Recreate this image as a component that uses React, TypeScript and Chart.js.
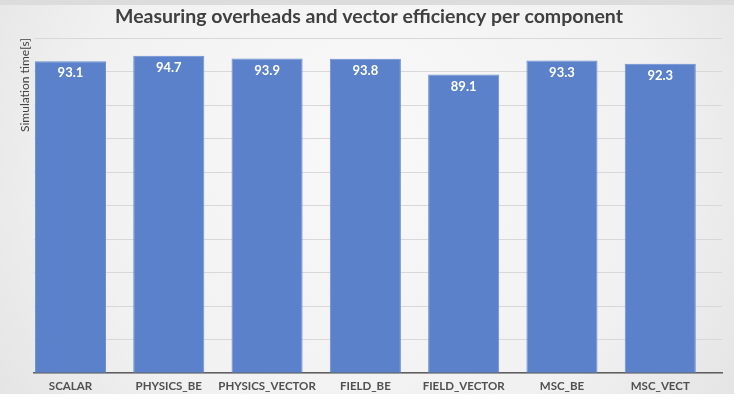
import React, { useEffect, useRef } from "react";
import { Chart, registerables } from "chart.js";

Chart.register(...registerables);

const chartTitle = "Measuring overheads and vector efficiency per component";
const yAxisTitle = "Simulation time[s]";
const categories = ["SCALAR", "PHYSICS_BE", "PHYSICS_VECTOR", "FIELD_BE", "FIELD_VECTOR", "MSC_BE", "MSC_VECT"];
const simulationTimes = [93.1, 94.7, 93.9, 93.8, 89.1, 93.3, 92.3];
const yMin = 0;
const yMax = 100;
const yStep = 10;

const FONT = "Lato, 'Open Sans', 'DejaVu Sans', sans-serif";

const backgroundPlugin = {
  id: "slideBackground",
  beforeDraw(chart: any) {
    const { ctx, width, height } = chart;
    ctx.save();
    const g = ctx.createRadialGradient(width * 0.5, height * 0.35, 40, width * 0.5, height * 0.4, width * 0.62);
    g.addColorStop(0, "#f8f8f8");
    g.addColorStop(0.6, "#f1f1f1");
    g.addColorStop(1, "#e3e3e3");
    ctx.fillStyle = g;
    ctx.fillRect(0, 0, width, height);
    ctx.fillStyle = "#dcdcdc";
    ctx.fillRect(0, 0, width, 5);
    ctx.fillStyle = "#ffffff";
    ctx.fillRect(0, 394, width, height - 394);
    ctx.restore();
  },
};

const valueLabelPlugin = {
  id: "valueLabels",
  afterDatasetsDraw(chart: any) {
    const { ctx } = chart;
    const meta = chart.getDatasetMeta(0);
    ctx.save();
    ctx.fillStyle = "#ffffff";
    ctx.font = `bold 13px ${FONT}`;
    ctx.textAlign = "center";
    ctx.textBaseline = "middle";
    meta.data.forEach((bar: any, i: number) => {
      ctx.fillText(simulationTimes[i].toFixed(1), bar.x, bar.y + 12);
    });
    ctx.restore();
  },
};

export default function App() {
  const canvasRef = useRef<HTMLCanvasElement | null>(null);

  useEffect(() => {
    document.body.style.margin = "0";
    const canvas = canvasRef.current;
    if (!canvas) return;
    const chart = new Chart(canvas, {
      type: "bar",
      data: {
        datasets: [
          {
            label: yAxisTitle,
            data: simulationTimes.map((v, i) => ({ x: i, y: v })),
            backgroundColor: "#5a81c9",
            borderColor: "#6a8fd4",
            borderWidth: 1,
            barPercentage: 0.723,
            categoryPercentage: 1,
          },
        ],
      },
      options: {
        responsive: false,
        animation: false,
        devicePixelRatio: 1,
        layout: { padding: { left: 16, right: 12, top: 0, bottom: 0 } },
        plugins: {
          legend: { display: false },
          tooltip: { enabled: false },
          title: {
            display: true,
            text: chartTitle,
            color: "#404040",
            font: { family: FONT, size: 19.5, weight: "bold" },
            padding: { top: 5, bottom: 9.6 },
          },
        },
        scales: {
          x: {
            type: "linear",
            offset: false,
            min: -0.372,
            max: 6.628,
            grid: { display: false, drawTicks: false, offset: false },
            border: { display: true, color: "#5f5f5f", width: 1.5 },
            afterBuildTicks: (scale: any) => {
              scale.ticks = categories.map((_, i) => ({ value: i }));
            },
            ticks: {
              autoSkip: false,
              maxRotation: 0,
              padding: 6.5,
              color: "#505050",
              font: { family: FONT, size: 11.5, weight: "bold" },
              callback: (v: any) => categories[Math.round(Number(v))] ?? "",
            },
          },
          y: {
            min: yMin,
            max: yMax,
            ticks: { display: false, stepSize: yStep },
            grid: { color: "#d8d8d8", lineWidth: 1, drawTicks: false },
            border: { display: false },
            title: {
              display: true,
              text: yAxisTitle,
              align: "end",
              color: "#404040",
              font: { family: FONT, size: 12 },
              padding: { top: 1.5, bottom: 2 },
            },
          },
        },
      },
      plugins: [backgroundPlugin, valueLabelPlugin],
    } as any);
    return () => chart.destroy();
  }, []);

  return <canvas ref={canvasRef} width={734} height={400} style={{ display: "block" }} />;
}
